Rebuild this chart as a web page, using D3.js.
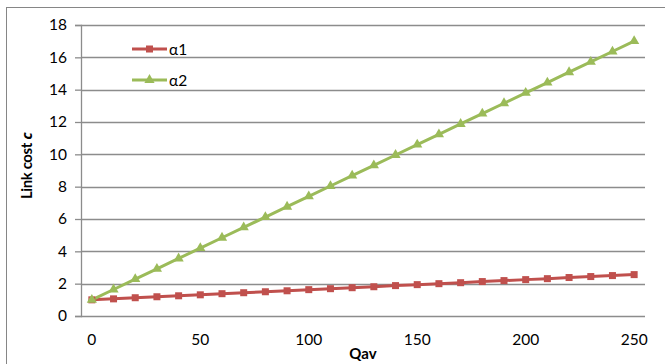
<!DOCTYPE html>
<html><head><meta charset="utf-8">
<script src="https://cdn.jsdelivr.net/npm/d3@7"></script>
<style>body{margin:0;background:#fff}svg{display:block}text{font-family:Lato,"Open Sans",sans-serif}</style>
</head><body>
<svg id="c" width="665" height="364"></svg>
<script>
const categories = [0,10,20,30,40,50,60,70,80,90,100,110,120,130,140,150,160,170,180,190,200,210,220,230,240,250];
const alpha1 = [1.00,1.06,1.13,1.19,1.25,1.31,1.38,1.44,1.50,1.56,1.63,1.69,1.75,1.81,1.88,1.94,2.00,2.06,2.13,2.19,2.25,2.31,2.38,2.44,2.50,2.56];
const alpha2 = [1.00,1.64,2.28,2.92,3.56,4.20,4.84,5.48,6.12,6.76,7.40,8.04,8.68,9.32,9.96,10.60,11.24,11.88,12.52,13.16,13.80,14.44,15.08,15.72,16.36,17.00];
const yTicks = [0,2,4,6,8,10,12,14,16,18];
const xTickLabels = [0,50,100,150,200,250];
const seriesNames = ["α1","α2"];

const svg = d3.select("#c");
const L=81, R=645, T=25, B=316;
svg.append("rect").attr("x",6.5).attr("y",7.5).attr("width",700).attr("height",400)
  .attr("fill","none").attr("stroke","#868686").attr("stroke-width",1);

const x = d3.scaleBand().domain(categories).range([L,R]);
const y = d3.scaleLinear().domain([0,18]).range([B,T]);

// gridlines
svg.append("g").selectAll("line").data(yTicks.filter(d=>d>0)).join("line")
  .attr("x1",L).attr("x2",R).attr("y1",d=>Math.round(y(d))+0.5).attr("y2",d=>Math.round(y(d))+0.5)
  .attr("stroke","#8c8c8c").attr("stroke-width",1.3);

// y axis
const ya = svg.append("g").attr("transform",`translate(${L},0)`)
  .call(d3.axisLeft(y).tickValues(yTicks).tickSize(6).tickPadding(8));
ya.select(".domain").attr("stroke","#8c8c8c").attr("stroke-width",1.3);
ya.selectAll(".tick line").attr("stroke","#8c8c8c").attr("stroke-width",1.3);
ya.selectAll("text").attr("font-size",15.5).attr("fill","#000");

// x axis
const xa = svg.append("g").attr("transform",`translate(0,${B})`)
  .call(d3.axisBottom(x).tickValues(xTickLabels).tickSize(0).tickPadding(18));
xa.select(".domain").attr("stroke","#8c8c8c").attr("stroke-width",1.3).attr("d",`M${L},0.5H${R}`);
xa.selectAll("text").attr("font-size",15.5).attr("fill","#000");

const cx = d => x(d)+x.bandwidth()/2;
const line = d3.line().x((d,i)=>cx(categories[i])).y(d=>y(d));

const colors = ["#C0504D","#9BBB59"];
[alpha1,alpha2].forEach((s,k)=>{
  svg.append("path").datum(s).attr("d",line).attr("fill","none")
    .attr("stroke",colors[k]).attr("stroke-width",3);
});
// markers
svg.append("g").selectAll("rect").data(alpha1).join("rect")
  .attr("x",(d,i)=>cx(categories[i])-3.5).attr("y",d=>y(d)-3.5).attr("width",7).attr("height",7)
  .attr("fill",colors[0]);
const tri = d3.symbol().type(d3.symbolTriangle).size(45);
svg.append("g").selectAll("path").data(alpha2).join("path")
  .attr("transform",(d,i)=>`translate(${cx(categories[i])},${y(d)})`).attr("d",tri)
  .attr("fill",colors[1]);

// legend
const lg = [[49,"rect"],[80,"tri"]];
lg.forEach(([ly,t],k)=>{
  svg.append("line").attr("x1",132).attr("x2",167).attr("y1",ly).attr("y2",ly)
    .attr("stroke",colors[k]).attr("stroke-width",3);
  if(t==="rect") svg.append("rect").attr("x",146).attr("y",ly-3.5).attr("width",7).attr("height",7).attr("fill",colors[k]);
  else svg.append("path").attr("transform",`translate(149.5,${ly})`).attr("d",tri).attr("fill",colors[k]);
  svg.append("text").attr("x",169).attr("y",ly+5.5).attr("font-size",15.5).text(seriesNames[k]);
});

// titles
svg.append("text").attr("x",363).attr("y",359).attr("text-anchor","middle")
  .attr("font-size",15).attr("font-weight","bold").text("Qav");
const yt = svg.append("text").attr("transform","translate(32,166) rotate(-90)").attr("text-anchor","middle")
  .attr("font-size",15).attr("font-weight","bold").attr("letter-spacing",-0.4);
yt.append("tspan").text("Link cost ");
yt.append("tspan").attr("font-style","italic").style("font-family","'Open Sans','Liberation Sans',sans-serif").text("c");
</script>
</body></html>
